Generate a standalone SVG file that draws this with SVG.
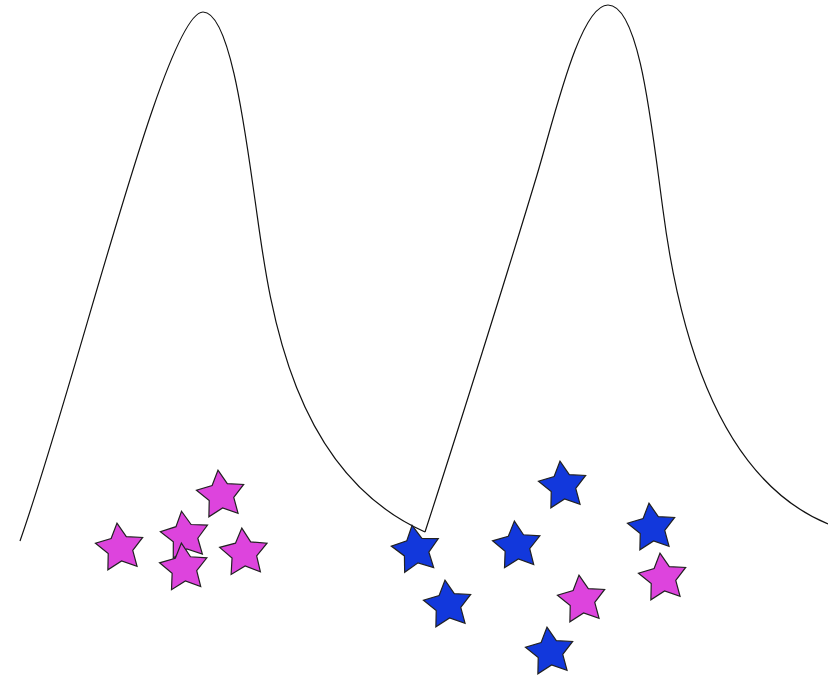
<svg xmlns="http://www.w3.org/2000/svg" width="828" height="678" viewBox="0 0 828 678">
<style>
.curve{fill:none;stroke:#111;stroke-width:1.2}
.pink{fill:#dd44dd;stroke:#222;stroke-width:1.2;stroke-linejoin:miter}
.blue{fill:#1238dc;stroke:#222;stroke-width:1.2;stroke-linejoin:miter}
</style>
<defs>
<path id="star" d="M0,-25 L7.64,-10.52 L23.78,-7.73 L12.36,4.02 L14.69,20.23 L0,13 L-14.69,20.23 L-12.36,4.02 L-23.78,-7.73 L-7.64,-10.52 Z"/>
</defs>
<rect width="828" height="678" fill="#fff"/>
<g id="connectors">
<path class="curve" d="M20,541 C80,370 165,12 203,12 C230,12 245,130 255,200 C268,290 285,470 425,532"/>
<path class="curve" d="M425,532 C455,440 510,265 537,175 C555,115 580,5 608,5 C640,5 652,130 663,210 C676,310 710,475 828,524"/>
</g>
<g id="star-p1"><use href="#star" class="pink" transform="translate(120,548) rotate(-7)"/></g>
<g id="star-p2"><use href="#star" class="pink" transform="translate(221,495) rotate(-7)"/></g>
<g id="star-p3"><use href="#star" class="pink" transform="translate(185,536) rotate(-8)"/></g>
<g id="star-p4"><use href="#star" class="pink" transform="translate(184,568) rotate(-6)"/></g>
<g id="star-p5"><use href="#star" class="pink" transform="translate(244,553) rotate(-5)"/></g>
<g id="star-b1"><use href="#star" class="blue" transform="translate(416,550) rotate(-9)"/></g>
<g id="star-b2"><use href="#star" class="blue" transform="translate(448,605) rotate(-7)"/></g>
<g id="star-b3"><use href="#star" class="blue" transform="translate(563,486) rotate(-7)"/></g>
<g id="star-b4"><use href="#star" class="blue" transform="translate(517,546) rotate(-6)"/></g>
<g id="star-b5"><use href="#star" class="blue" transform="translate(652,528) rotate(-7)"/></g>
<g id="star-p6"><use href="#star" class="pink" transform="translate(582,600) rotate(-7)"/></g>
<g id="star-p7"><use href="#star" class="pink" transform="translate(663,578) rotate(-7)"/></g>
<g id="star-b6"><use href="#star" class="blue" transform="translate(550,652) rotate(-7)"/></g>
</svg>
